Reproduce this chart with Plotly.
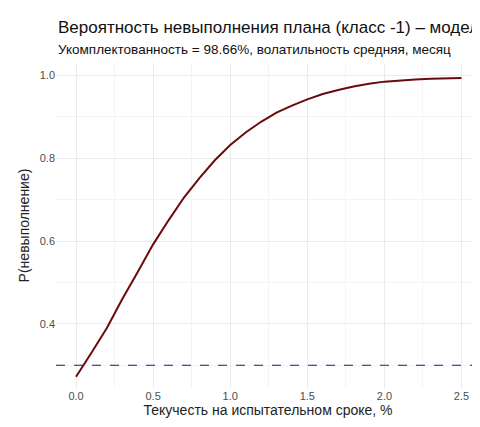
import plotly.graph_objects as go

turnover = [0.0, 0.05, 0.1, 0.2, 0.3, 0.4, 0.5, 0.6, 0.7, 0.8, 0.9, 1.0, 1.1, 1.2, 1.3, 1.4, 1.5, 1.6, 1.7, 1.8, 1.9, 2.0, 2.1, 2.2, 2.3, 2.4, 2.5]
prob = [0.272, 0.30, 0.33, 0.39, 0.46, 0.525, 0.592, 0.65, 0.705, 0.752, 0.795, 0.832, 0.862, 0.888, 0.91, 0.927, 0.942, 0.955, 0.965, 0.973, 0.98, 0.985, 0.988, 0.99, 0.992, 0.993, 0.994]
threshold = 0.3
title_text = "Вероятность невыполнения плана (класс -1) – модель"
subtitle_text = "Укомплектованность = 98.66%, волатильность средняя, месяц"

fig = go.Figure()
fig.add_trace(go.Scatter(x=turnover, y=prob, mode="lines", line=dict(color="#6b0a0a", width=2), showlegend=False))
fig.add_hline(y=threshold, line=dict(color="#1a1a7a", width=1.2, dash="dash"))

fig.update_layout(
    width=480, height=427, plot_bgcolor="white", paper_bgcolor="white",
    margin=dict(l=48, r=8, t=55, b=47, autoexpand=False),
    font=dict(family="Liberation Sans, Arial", color="#222"),
    annotations=[
        dict(text=title_text, x=48, y=427 - 8, xref="paper", yref="paper", showarrow=False, xanchor="left", yanchor="top",
             font=dict(size=17, color="#111")),
        dict(text=subtitle_text, x=48, y=427 - 32, xref="paper", yref="paper", showarrow=False, xanchor="left", yanchor="top",
             font=dict(size=13.5, color="#111")),
    ],
)
# convert pixel positions to paper coordinates
pw, ph = 480 - 48 - 8, 427 - 55 - 47
for a in fig.layout.annotations:
    a.x = (a.x - 48) / pw
    a.y = (a.y - 47) / ph

fig.update_xaxes(range=[-0.13, 2.62], tickvals=[0, 0.5, 1.0, 1.5, 2.0, 2.5], ticktext=["0.0", "0.5", "1.0", "1.5", "2.0", "2.5"],
                 showgrid=True, gridcolor="#ebebeb", zeroline=False, showline=False, automargin=False,
                 tickfont=dict(size=11, color="#4d4d4d"),
                 title=dict(text="Текучесть на испытательном сроке, %", font=dict(size=14), standoff=4),
                 minor=dict(tickvals=[0.25, 0.75, 1.25, 1.75, 2.25], showgrid=True, gridcolor="#f4f4f4"))
fig.update_yaxes(range=[0.245, 1.03], tickvals=[0.4, 0.6, 0.8, 1.0], ticktext=["0.4", "0.6", "0.8", "1.0"],
                 showgrid=True, gridcolor="#ebebeb", zeroline=False, showline=False, automargin=False,
                 tickfont=dict(size=11, color="#4d4d4d"),
                 title=dict(text="P(невыполнение)", font=dict(size=14), standoff=6),
                 minor=dict(tickvals=[0.3, 0.5, 0.7, 0.9], showgrid=True, gridcolor="#f4f4f4"))
fig.write_html("out.html")
